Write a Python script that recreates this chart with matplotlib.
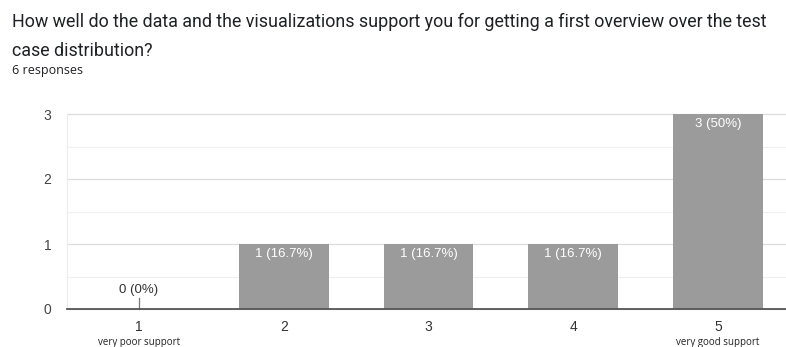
import matplotlib
matplotlib.use("Agg")
import matplotlib.pyplot as plt
from matplotlib.ticker import MultipleLocator

title = "How well do the data and the visualizations support you for getting a first overview over the test\ncase distribution?"
subtitle = "6 responses"
categories = ["1", "2", "3", "4", "5"]
sublabels = ["very poor support", "", "", "", "very good support"]
counts = [0, 1, 1, 1, 3]
percent_labels = ["0%", "16.7%", "16.7%", "16.7%", "50%"]

W, H = 786, 347
fig = plt.figure(figsize=(W / 100, H / 100), dpi=100)
fig.patch.set_facecolor("white")
plt.rcParams["font.family"] = ["Liberation Sans", "DejaVu Sans"]

# axes placed in pixel units
left, right, bottom, top = 66.5, 790.5, 309, 114
ax = fig.add_axes([left / W, 1 - bottom / H, (right - left) / W, (bottom - top) / H])

x = list(range(len(categories)))
bar_color = "#9b9b9b"
ax.bar(x, counts, width=0.62, color=bar_color, zorder=2)

ax.set_xlim(-0.5, len(categories) - 0.5)
ax.set_ylim(0, 3)
ax.yaxis.set_major_locator(MultipleLocator(1))
ax.yaxis.set_minor_locator(MultipleLocator(0.5))
ax.grid(axis="y", which="major", color="#dcdcdc", linewidth=0.9, zorder=0, clip_on=False)
ax.grid(axis="y", which="minor", color="#efefef", linewidth=0.8, zorder=0)
for s in ["top", "right"]:
    ax.spines[s].set_visible(False)
ax.spines["left"].set_color("#ececec")
ax.spines["left"].set_linewidth(0.8)
ax.spines["bottom"].set_color("#555555")
ax.spines["bottom"].set_linewidth(1.3)
ax.spines["bottom"].set_zorder(3)

ax.tick_params(axis="y", which="both", length=0, pad=11, labelsize=10, labelcolor="#444444")
ax.tick_params(axis="x", length=0, pad=0, labelbottom=False)
ax.set_xticks(x)

for xi, cat, sub in zip(x, categories, sublabels):
    ax.annotate(cat, (xi, 0), xytext=(0, -8), textcoords="offset points",
                ha="center", va="top", fontsize=10, color="#333333")
    if sub:
        ax.annotate(sub, (xi, 0), xytext=(0, -20), textcoords="offset points",
                    ha="center", va="top", fontsize=7, color="#222222",
                    family=["Open Sans", "DejaVu Sans"])

for xi, c, p in zip(x, counts, percent_labels):
    label = f"{c} ({p})"
    if c > 0:
        ax.annotate(label, (xi, c), xytext=(0, -3), textcoords="offset points",
                    ha="center", va="top", fontsize=9.5, color="white", zorder=4)
    else:
        ax.plot([xi, xi], [0, 0.17], color="#777777", linewidth=0.9, zorder=3,
                clip_on=False)
        ax.annotate(label, (xi, 0.2), xytext=(0, 0), textcoords="offset points",
                    ha="center", va="bottom", fontsize=9.5, color="#333333")

fig.text(12 / W, 1 - 12.5 / H, title, ha="left", va="top", fontsize=12.9,
         color="#202124", linespacing=1.85, family=["Roboto", "DejaVu Sans"])
fig.text(12 / W, 1 - 64 / H, subtitle, ha="left", va="top", fontsize=9,
         color="#202124", family=["Open Sans", "DejaVu Sans"])

fig.savefig("out.png", dpi=100, facecolor="white")
